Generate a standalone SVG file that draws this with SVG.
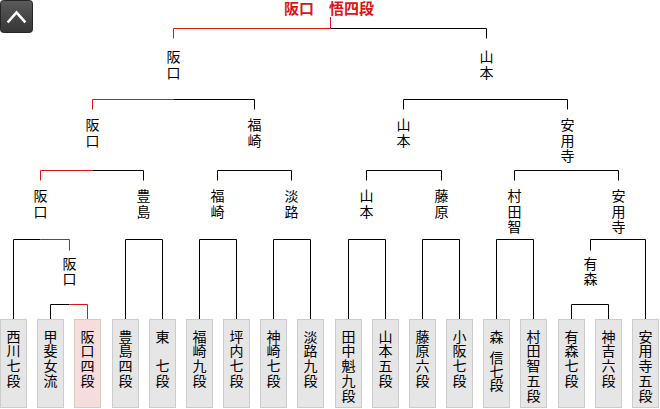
<svg xmlns="http://www.w3.org/2000/svg" width="660" height="409" viewBox="0 0 660 409">
<style>
.t{font-family:"Noto Sans CJK JP","Noto Sans CJK SC",sans-serif;font-size:14px;text-anchor:middle;fill:#000}
.box{fill:#e6e6e6;stroke:#cccccc;stroke-width:1}
.win{fill:#f5dddd;stroke:#dcc6c6;stroke-width:1}
.ln{fill:none;stroke:#000;stroke-width:1}
.red{fill:none;stroke:#dd1414;stroke-width:1}
.title{font-family:"Noto Sans CJK JP","Noto Sans CJK SC",sans-serif;font-size:15px;font-weight:bold;text-anchor:middle;fill:#dd1414}
</style>
<defs>
<linearGradient id="btn" x1="0" y1="0" x2="0" y2="1">
<stop offset="0" stop-color="#5a5a5a"/>
<stop offset="1" stop-color="#363636"/>
</linearGradient>
</defs>
<rect x="0.5" y="0.5" width="32" height="32" rx="3" fill="url(#btn)" stroke="#262626"/>
<path d="M8.5,21.5 L16.5,12.5 L24.5,21.5" fill="none" stroke="#ffffff" stroke-width="2.6" stroke-linecap="square"/>
<text id="champion" class="title" x="329" y="13.5">阪口　悟四段</text>
<g id="connectors">
<path class="ln" d="M50.5,319 V304.5 H69.5"/>
<path class="red" d="M69.5,304.5 H87.5 V319"/>
<path class="ln" d="M571.5,319 V304.5 H608.5 V319"/>
<path class="ln" d="M13.5,319 V239.5 H40.5"/>
<path class="red" d="M40.5,239.5 H69.5 V250.5"/>
<path class="ln" d="M125.5,319 V239.5 H162.5 V319"/>
<path class="ln" d="M199.5,319 V239.5 H236.5 V319"/>
<path class="ln" d="M273.5,319 V239.5 H310.5 V319"/>
<path class="ln" d="M348.5,319 V239.5 H385.5 V319"/>
<path class="ln" d="M422.5,319 V239.5 H459.5 V319"/>
<path class="ln" d="M496.5,319 V239.5 H533.5 V319"/>
<path class="ln" d="M590.5,250.5 V239.5 H645.5 V319"/>
<path class="red" d="M40.5,180.5 V170.5 H92.5"/>
<path class="ln" d="M92.5,170.5 H143.5 V180.5"/>
<path class="ln" d="M217.5,180.5 V170.5 H291.5 V180.5"/>
<path class="ln" d="M366.5,180.5 V170.5 H441.5 V180.5"/>
<path class="ln" d="M514.5,180.5 V170.5 H618.5 V180.5"/>
<path class="red" d="M92.5,109.5 V99.5 H173.5"/>
<path class="ln" d="M173.5,99.5 H254.5 V109.5"/>
<path class="ln" d="M403.5,109.5 V99.5 H567.5 V109.5"/>
<path class="red" d="M173.5,38.5 V28.5 H330.5"/>
<path class="red" d="M330.5,17 V28.5"/>
<path class="ln" d="M330.5,28.5 H486.5 V38.5"/>
</g>
<g id="p1"><rect class="box" x="0.5" y="319.5" width="26" height="88"/><text class="t"><tspan x="13.5" y="341.5">西</tspan><tspan x="13.5" y="356.3">川</tspan><tspan x="13.5" y="371.1">七</tspan><tspan x="13.5" y="385.9">段</tspan></text></g>
<g id="p2"><rect class="box" x="37.5" y="319.5" width="26" height="88"/><text class="t"><tspan x="50.5" y="341.5">甲</tspan><tspan x="50.5" y="356.3">斐</tspan><tspan x="50.5" y="371.1">女</tspan><tspan x="50.5" y="385.9">流</tspan></text></g>
<g id="p3"><rect class="win" x="74.5" y="319.5" width="26" height="88"/><text class="t"><tspan x="87.5" y="341.5">阪</tspan><tspan x="87.5" y="356.3">口</tspan><tspan x="87.5" y="371.1">四</tspan><tspan x="87.5" y="385.9">段</tspan></text></g>
<g id="p4"><rect class="box" x="112.5" y="319.5" width="26" height="88"/><text class="t"><tspan x="125.5" y="341.5">豊</tspan><tspan x="125.5" y="356.3">島</tspan><tspan x="125.5" y="371.1">四</tspan><tspan x="125.5" y="385.9">段</tspan></text></g>
<g id="p5"><rect class="box" x="149.5" y="319.5" width="26" height="88"/><text class="t"><tspan x="162.5" y="341.5">東</tspan><tspan x="162.5" y="371.1">七</tspan><tspan x="162.5" y="385.9">段</tspan></text></g>
<g id="p6"><rect class="box" x="186.5" y="319.5" width="26" height="88"/><text class="t"><tspan x="199.5" y="341.5">福</tspan><tspan x="199.5" y="356.3">崎</tspan><tspan x="199.5" y="371.1">九</tspan><tspan x="199.5" y="385.9">段</tspan></text></g>
<g id="p7"><rect class="box" x="223.5" y="319.5" width="26" height="88"/><text class="t"><tspan x="236.5" y="341.5">坪</tspan><tspan x="236.5" y="356.3">内</tspan><tspan x="236.5" y="371.1">七</tspan><tspan x="236.5" y="385.9">段</tspan></text></g>
<g id="p8"><rect class="box" x="260.5" y="319.5" width="26" height="88"/><text class="t"><tspan x="273.5" y="341.5">神</tspan><tspan x="273.5" y="356.3">崎</tspan><tspan x="273.5" y="371.1">七</tspan><tspan x="273.5" y="385.9">段</tspan></text></g>
<g id="p9"><rect class="box" x="297.5" y="319.5" width="26" height="88"/><text class="t"><tspan x="310.5" y="341.5">淡</tspan><tspan x="310.5" y="356.3">路</tspan><tspan x="310.5" y="371.1">九</tspan><tspan x="310.5" y="385.9">段</tspan></text></g>
<g id="p10"><rect class="box" x="335.5" y="319.5" width="26" height="88"/><text class="t"><tspan x="348.5" y="341.5">田</tspan><tspan x="348.5" y="356.3">中</tspan><tspan x="348.5" y="371.1">魁</tspan><tspan x="348.5" y="385.9">九</tspan><tspan x="348.5" y="400.7">段</tspan></text></g>
<g id="p11"><rect class="box" x="372.5" y="319.5" width="26" height="88"/><text class="t"><tspan x="385.5" y="341.5">山</tspan><tspan x="385.5" y="356.3">本</tspan><tspan x="385.5" y="371.1">五</tspan><tspan x="385.5" y="385.9">段</tspan></text></g>
<g id="p12"><rect class="box" x="409.5" y="319.5" width="26" height="88"/><text class="t"><tspan x="422.5" y="341.5">藤</tspan><tspan x="422.5" y="356.3">原</tspan><tspan x="422.5" y="371.1">六</tspan><tspan x="422.5" y="385.9">段</tspan></text></g>
<g id="p13"><rect class="box" x="446.5" y="319.5" width="26" height="88"/><text class="t"><tspan x="459.5" y="341.5">小</tspan><tspan x="459.5" y="356.3">阪</tspan><tspan x="459.5" y="371.1">七</tspan><tspan x="459.5" y="385.9">段</tspan></text></g>
<g id="p14"><rect class="box" x="483.5" y="319.5" width="26" height="88"/><text class="t"><tspan x="496.5" y="341.5">森</tspan><tspan x="496.5" y="363">信</tspan><tspan x="496.5" y="377">七</tspan><tspan x="496.5" y="390">段</tspan></text></g>
<g id="p15"><rect class="box" x="520.5" y="319.5" width="26" height="88"/><text class="t"><tspan x="533.5" y="341.5">村</tspan><tspan x="533.5" y="356.3">田</tspan><tspan x="533.5" y="371.1">智</tspan><tspan x="533.5" y="385.9">五</tspan><tspan x="533.5" y="400.7">段</tspan></text></g>
<g id="p16"><rect class="box" x="558.5" y="319.5" width="26" height="88"/><text class="t"><tspan x="571.5" y="341.5">有</tspan><tspan x="571.5" y="356.3">森</tspan><tspan x="571.5" y="371.1">七</tspan><tspan x="571.5" y="385.9">段</tspan></text></g>
<g id="p17"><rect class="box" x="595.5" y="319.5" width="26" height="88"/><text class="t"><tspan x="608.5" y="341.5">神</tspan><tspan x="608.5" y="356.3">吉</tspan><tspan x="608.5" y="371.1">六</tspan><tspan x="608.5" y="385.9">段</tspan></text></g>
<g id="p18"><rect class="box" x="632.5" y="319.5" width="26" height="88"/><text class="t"><tspan x="645.5" y="341.5">安</tspan><tspan x="645.5" y="356.3">用</tspan><tspan x="645.5" y="371.1">寺</tspan><tspan x="645.5" y="385.9">五</tspan><tspan x="645.5" y="400.7">段</tspan></text></g>
<g id="w0a"><text class="t"><tspan x="69.5" y="268.5">阪</tspan><tspan x="69.5" y="284">口</tspan></text></g>
<g id="w0b"><text class="t"><tspan x="590.5" y="268.5">有</tspan><tspan x="590.5" y="284">森</tspan></text></g>
<g id="w1a"><text class="t"><tspan x="40.5" y="201">阪</tspan><tspan x="40.5" y="216.5">口</tspan></text></g>
<g id="w1b"><text class="t"><tspan x="143.5" y="201">豊</tspan><tspan x="143.5" y="216.5">島</tspan></text></g>
<g id="w1c"><text class="t"><tspan x="217.5" y="201">福</tspan><tspan x="217.5" y="216.5">崎</tspan></text></g>
<g id="w1d"><text class="t"><tspan x="291.5" y="201">淡</tspan><tspan x="291.5" y="216.5">路</tspan></text></g>
<g id="w1e"><text class="t"><tspan x="366.5" y="201">山</tspan><tspan x="366.5" y="216.5">本</tspan></text></g>
<g id="w1f"><text class="t"><tspan x="441.5" y="201">藤</tspan><tspan x="441.5" y="216.5">原</tspan></text></g>
<g id="w1g"><text class="t"><tspan x="514.5" y="201">村</tspan><tspan x="514.5" y="216.5">田</tspan><tspan x="514.5" y="232">智</tspan></text></g>
<g id="w1h"><text class="t"><tspan x="618.5" y="201">安</tspan><tspan x="618.5" y="216.5">用</tspan><tspan x="618.5" y="232">寺</tspan></text></g>
<g id="w2a"><text class="t"><tspan x="92.5" y="130">阪</tspan><tspan x="92.5" y="145.5">口</tspan></text></g>
<g id="w2b"><text class="t"><tspan x="254.5" y="130">福</tspan><tspan x="254.5" y="145.5">崎</tspan></text></g>
<g id="w2c"><text class="t"><tspan x="403.5" y="130">山</tspan><tspan x="403.5" y="145.5">本</tspan></text></g>
<g id="w2d"><text class="t"><tspan x="567.5" y="130">安</tspan><tspan x="567.5" y="145.5">用</tspan><tspan x="567.5" y="161">寺</tspan></text></g>
<g id="w3a"><text class="t"><tspan x="173.5" y="62">阪</tspan><tspan x="173.5" y="77.5">口</tspan></text></g>
<g id="w3b"><text class="t"><tspan x="486.5" y="62">山</tspan><tspan x="486.5" y="77.5">本</tspan></text></g>
</svg>
